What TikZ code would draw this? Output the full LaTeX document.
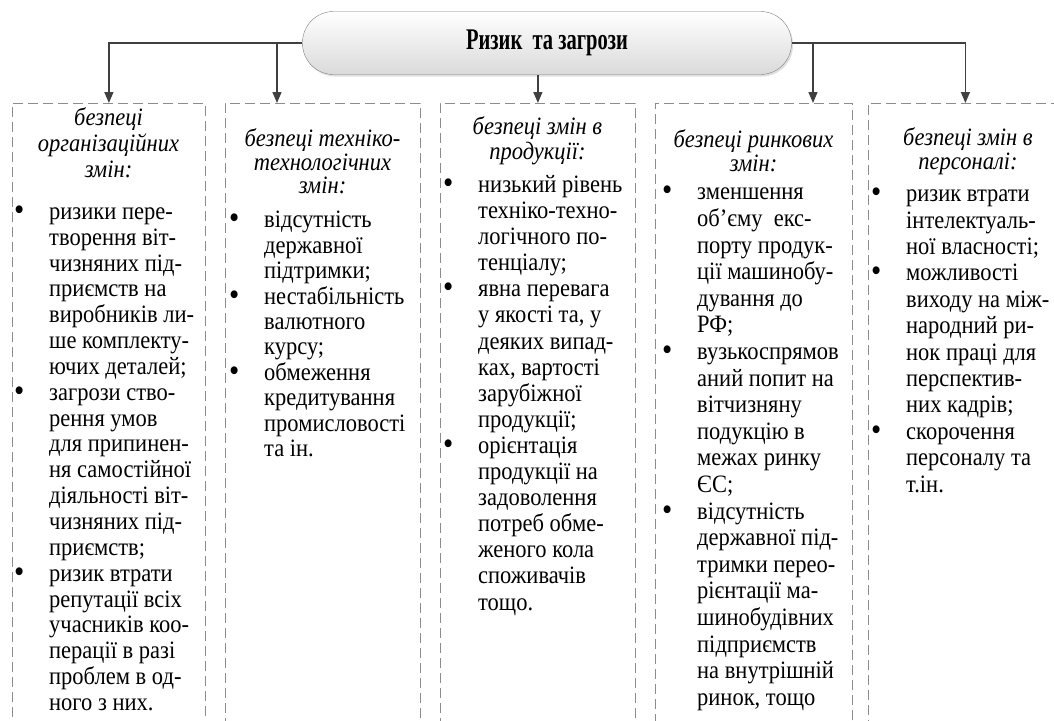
\documentclass[tikz,border=0pt]{standalone}
\usepackage{fontspec}
\setmainfont{Liberation Serif}[FakeStretch=0.9]
\usetikzlibrary{positioning}
\usetikzlibrary{arrows.meta}
\usetikzlibrary{shadows}
\definecolor{linegray}{RGB}{64,64,64}
\definecolor{boxgray}{RGB}{140,140,140}
\definecolor{pillgray}{RGB}{218,218,218}
\newcommand{\bl}{\makebox[35pt][l]{\raisebox{-1pt}{\scalebox{1.3}{\textbullet}}}}
\newcommand{\ind}{\hspace*{35pt}}

\begin{document}
\begin{tikzpicture}[x=1pt,y=1pt,
		arr/.style={color=linegray,line width=1.4pt,-{Triangle[length=11pt,width=9pt]}},
		dashbox/.style={draw=boxgray,line width=0.8pt,dash pattern=on 10pt off 5pt,inner sep=0pt,anchor=north west,minimum height=660pt},
		pill/.style={draw=gray,rounded corners=31pt,top color=white,bottom color=pillgray,minimum width=489pt,minimum height=63pt,drop shadow={opacity=0.25,shadow xshift=1.5pt,shadow yshift=-2pt}},
		head/.style={font=\fontsize{25}{#1}\selectfont\itshape,align=center,anchor=north,inner sep=0pt},
		head/.default=24,
		items/.style={font=\fontsize{25}{#1}\selectfont,align=left,anchor=north west,inner sep=0pt},
		items/.default=25.8]
		% Page frame
		\useasboundingbox (0,0) rectangle (1054,-720);
		\clip (0,0) rectangle (1054,-720);
		% Draw boxes
		\node[dashbox,minimum width=193pt] (b1) at (12,-103) {};
		\node[dashbox,minimum width=195pt] (b2) at (225,-103) {};
		\node[dashbox,minimum width=195pt] (b3) at (440,-103) {};
		\node[dashbox,minimum width=197pt] (b4) at (655,-103) {};
		\node[dashbox,minimum width=194pt] (b5) at (868,-103) {};
		% Draw title
		\node[pill] (risk) at (547,-43) {\fontsize{30}{30}\selectfont\bfseries\scalebox{0.76}[1]{Ризик~~та загрози}};
		% Draw arrows
		\coordinate (t2) at (277,-103);
		\coordinate (t4) at (813,-103);
		\draw[arr] (risk.west) -| (b1.north);
		\draw[arr] (risk.west) -| (t2);
		\draw[arr] (risk.south -| b3.north) -- (b3.north);
		\draw[arr] (risk.east) -| (t4);
		\draw[arr] (risk.east) -| (b5.north);
		% Headers
		\node[head=26] (h1) at (108.5,-107) {\strut безпеці\\організаційних\\змін:};
		\node[head=23] (h2) at (322.5,-128) {\strut безпеці техніко-\\технологічних\\змін:};
		\node[head=25] (h3) at (537.5,-116) {\strut безпеці змін в\\продукції:};
		\node[head=24] (h4) at (753.5,-129) {\strut безпеці ринкових\\змін:};
		\node[head=22] (h5) at (968,-127) {\strut безпеці змін в\\персоналі:};
		% Lists
		\node[items=25.85] (l1) at (14,-201) {\strut\bl ризики пере-\\
			\ind творення віт-\\
			\ind чизняних під-\\
			\ind приємств на\\
			\ind виробників ли-\\
			\ind ше комплекту-\\
			\ind ючих деталей;\\
			\bl загрози ство-\\
			\ind рення умов\\
			\ind для припинен-\\
			\ind ня самостійної\\
			\ind діяльності віт-\\
			\ind чизняних під-\\
			\ind приємств;\\
			\bl ризик втрати\\
			\ind репутації всіх\\
			\ind учасників коо-\\
			\ind перації в разі\\
			\ind проблем в од-\\
			\ind ного з них.};
		\node[items=25.4] (l2) at (229,-210) {\strut\bl відсутність\\
			\ind державної\\
			\ind підтримки;\\
			\bl нестабільність\\
			\ind валютного\\
			\ind курсу;\\
			\bl обмеження\\
			\ind кредитування\\
			\ind промисловості\\
			\ind та ін.};
		\node[items=26.1] (l3) at (443,-174) {\strut\bl низький рівень\\
			\ind техніко-техно-\\
			\ind логічного по-\\
			\ind тенціалу;\\
			\bl явна перевага\\
			\ind у якості та, у\\
			\ind деяких випад-\\
			\ind ках, вартості\\
			\ind зарубіжної\\
			\ind продукції;\\
			\bl орієнтація\\
			\ind продукції на\\
			\ind задоволення\\
			\ind потреб обме-\\
			\ind женого кола\\
			\ind споживачів\\
			\ind тощо.};
		\node[items=26.6] (l4) at (662,-181) {\strut\bl зменшення\\
			\ind об{\char"27}єму~ екс-\\
			\ind порту продук-\\
			\ind ції машинобу-\\
			\ind дування до\\
			\ind РФ;\\
			\bl вузькоспрямов\\
			\ind аний попит на\\
			\ind вітчизняну\\
			\ind подукцію в\\
			\ind межах ринку\\
			\ind ЄС;\\
			\bl відсутність\\
			\ind державної під-\\
			\ind тримки перео-\\
			\ind рієнтації ма-\\
			\ind шинобудівних\\
			\ind підприємств\\
			\ind на внутрішній\\
			\ind ринок, тощо};
		\node[items=26.4] (l5) at (871,-183) {\strut\bl ризик втрати\\
			\ind інтелектуаль-\\
			\ind ної власності;\\
			\bl можливості\\
			\ind виходу на між-\\
			\ind народний ри-\\
			\ind нок праці для\\
			\ind перспектив-\\
			\ind них кадрів;\\
			\bl скорочення\\
			\ind персоналу та\\
			\ind т.ін.};
	\end{tikzpicture}
\end{document}
